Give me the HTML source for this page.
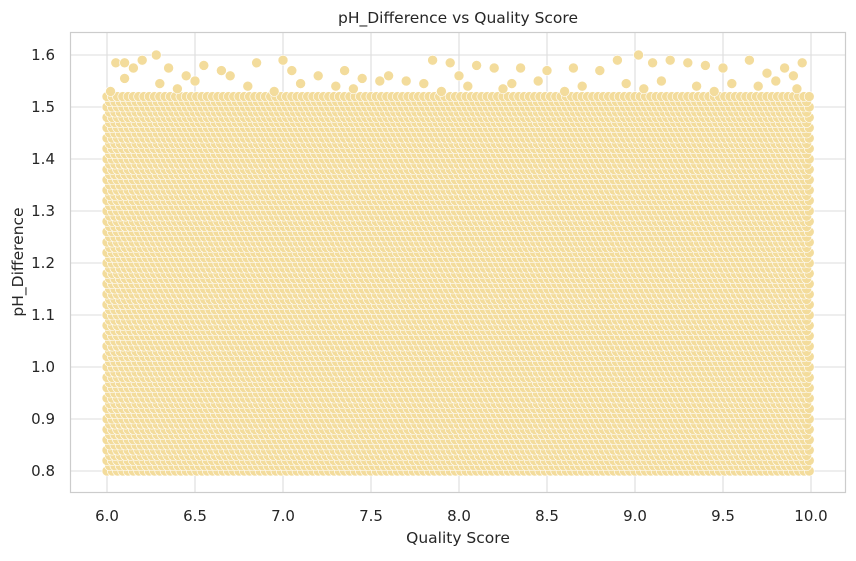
<!DOCTYPE html>
<html><head><meta charset="utf-8"><style>
body{margin:0;background:#fff;font-family:"Liberation Sans","DejaVu Sans",sans-serif;}
svg text{font-family:"DejaVu Sans","Liberation Sans",sans-serif;fill:#262626;}
</style></head><body>
<svg id="chart" width="856" height="556">
<rect x="0" y="0" width="856" height="556" fill="#fff"/>
<g id="grid"></g>
<g id="marks"></g>
<rect x="70.5" y="32.5" width="775" height="460" fill="none" stroke="#cccccc" stroke-width="1.2"/>
<g id="ticks"></g>
<text x="458" y="23" text-anchor="middle" font-size="15.5">pH_Difference vs Quality Score</text>
<text x="458" y="543" text-anchor="middle" font-size="15.5">Quality Score</text>
<text x="23" y="262" text-anchor="middle" font-size="15.5" transform="rotate(-90 23 262)">pH_Difference</text>
</svg>
<script>
const xTicks=[6.0,6.5,7.0,7.5,8.0,8.5,9.0,9.5,10.0];
const yTicks=[0.8,0.9,1.0,1.1,1.2,1.3,1.4,1.5,1.6];
const denseXRange=[6.0,10.0];
const denseYRange=[0.8,1.52];
const outlierX=[6.05,6.1,6.15,6.2,6.28,6.35,6.45,6.55,6.7,6.85,7.0,7.05,7.2,7.35,7.45,7.6,7.85,7.95,8.1,8.2,8.35,8.5,8.65,8.8,8.9,9.02,9.1,9.2,9.3,9.4,9.5,9.65,9.75,9.85,9.95,9.9,6.65,8.0,7.7,6.1,6.3,6.5,6.8,7.1,7.3,7.55,7.8,8.05,8.3,8.45,8.7,8.95,9.15,9.35,9.55,9.7,9.8,6.02,6.4,6.95,7.4,7.9,8.25,8.6,9.05,9.45,9.92];
const outlierY=[1.585,1.585,1.575,1.59,1.6,1.575,1.56,1.58,1.56,1.585,1.59,1.57,1.56,1.57,1.555,1.56,1.59,1.585,1.58,1.575,1.575,1.57,1.575,1.57,1.59,1.6,1.585,1.59,1.585,1.58,1.575,1.59,1.565,1.575,1.585,1.56,1.57,1.56,1.55,1.555,1.545,1.55,1.54,1.545,1.54,1.55,1.545,1.54,1.545,1.55,1.54,1.545,1.55,1.54,1.545,1.54,1.55,1.53,1.535,1.53,1.535,1.53,1.535,1.53,1.535,1.53,1.535];
const xs=v=>107+(v-6)*176;
const ys=v=>471-(v-0.8)*520;
const NS="http://www.w3.org/2000/svg";
const grid=document.getElementById('grid'),marks=document.getElementById('marks'),ticks=document.getElementById('ticks');
function mk(t,a){const e=document.createElementNS(NS,t);for(const k in a)e.setAttribute(k,a[k]);return e;}
xTicks.forEach(v=>{
 const l=mk('line',{x1:xs(v),x2:xs(v),y1:33,y2:492,stroke:'#dddddd','stroke-width':1.1});
 
 
 grid.appendChild(l);
 const t=mk('text',{x:xs(v),y:521,'text-anchor':'middle','font-size':15});
 t.textContent=v.toFixed(1);
 
 
 ticks.appendChild(t);
});
yTicks.forEach(v=>{
 const l=mk('line',{x1:71,x2:845,y1:ys(v),y2:ys(v),stroke:'#dddddd','stroke-width':1.1});
 
 
 grid.appendChild(l);
 const t=mk('text',{x:55,y:ys(v)+5,'text-anchor':'end','font-size':15});
 t.textContent=v.toFixed(1);
 
 
 ticks.appendChild(t);
});
const fill='#f3dc9c';
let row=0;
for(let y=denseYRange[0];y<=denseYRange[1]+1e-9;y+=0.01,row++){
 for(let x=denseXRange[0]+(row%2?0.015:0);x<=denseXRange[1]+1e-9;x+=0.03){
  const c=mk('circle',{cx:xs(x),cy:ys(y),r:5,fill:fill,stroke:'#fff','stroke-width':0.6});
  
  
  marks.appendChild(c);
 }
}
outlierX.forEach((x,i)=>{
 const c=mk('circle',{cx:xs(x),cy:ys(outlierY[i]),r:5,fill:fill,stroke:'#fff','stroke-width':0.6});
 
 
 marks.appendChild(c);
});
</script>
</body></html>
